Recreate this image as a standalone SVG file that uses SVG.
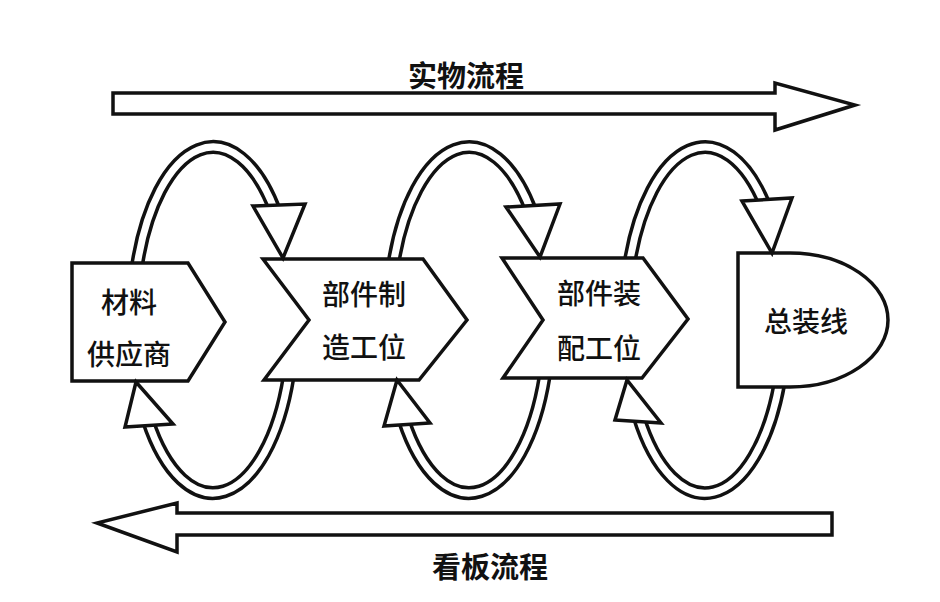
<svg xmlns="http://www.w3.org/2000/svg" width="940" height="602" viewBox="0 0 940 602">
<style>
.shape{fill:#fff;stroke:#111;stroke-width:3.5;stroke-linejoin:miter}
.bandO{fill:none;stroke:#111;stroke-width:14}
.bandI{fill:none;stroke:#fff;stroke-width:7}
.head{fill:#fff;stroke:#111;stroke-width:3.5;stroke-linejoin:miter}
.t{font-family:"Noto Sans CJK SC","Noto Sans CJK TC",sans-serif;font-size:28px;fill:#111;text-anchor:middle;dominant-baseline:central}
.title{font-weight:700;font-size:29px}
.lbl{font-weight:500}
</style>
<rect width="940" height="602" fill="#fff"/>
<g id="connectors">
  <g id="flow-arrows">
    <path class="shape" d="M113,93 H775 V83 L855,105 L775,130 V114 H113 Z"/>
    <path class="shape" d="M832,513 H177 V503 L97,523 L177,552 V535 H832 Z"/>
  </g>
  <g id="loop1">
    <path class="bandO" d="M136.7,268 A80 173 0 0 1 275.5,212"/>
    <path class="bandI" d="M136.7,268 A80 173 0 0 1 275.5,212"/>
    <path class="bandO" d="M288.7,376 A80 173 0 0 1 147.7,420"/>
    <path class="bandI" d="M288.7,376 A80 173 0 0 1 147.7,420"/>
  </g>
  <g id="loop2">
    <path class="bandO" d="M393.2,265 A80 173 0 0 1 531.5,212"/>
    <path class="bandI" d="M393.2,265 A80 173 0 0 1 531.5,212"/>
    <path class="bandO" d="M544.7,376 A80 173 0 0 1 403.7,420"/>
    <path class="bandI" d="M544.7,376 A80 173 0 0 1 403.7,420"/>
  </g>
  <g id="loop3">
    <path class="bandO" d="M629.2,265 A80 173 0 0 1 765.2,206"/>
    <path class="bandI" d="M629.2,265 A80 173 0 0 1 765.2,206"/>
    <path class="bandO" d="M779.7,382 A80 173 0 0 1 638.4,416"/>
    <path class="bandI" d="M779.7,382 A80 173 0 0 1 638.4,416"/>
  </g>
</g>
<g id="node-supplier">
  <path class="shape" d="M72,263 H188 L225,322 L188,381 H72 Z"/>
  <text class="t lbl" x="129" y="301">材料</text>
  <text class="t lbl" x="129" y="353">供应商</text>
</g>
<g id="node-parts-making">
  <path class="shape" d="M263,259 H423 L467,320 L419,380 H264 L309,320 Z"/>
  <text class="t lbl" x="364" y="293">部件制</text>
  <text class="t lbl" x="364" y="346">造工位</text>
</g>
<g id="node-parts-assembly">
  <path class="shape" d="M502,258 H643 L688,319 L642,378 H503 L543,320 Z"/>
  <text class="t lbl" x="599" y="292">部件装</text>
  <text class="t lbl" x="599" y="347">配工位</text>
</g>
<g id="node-final-line">
  <path class="shape" d="M738,253 H790 A98 67 0 0 1 790,387 H738 Z"/>
  <text class="t lbl" x="806" y="320">总装线</text>
</g>
<g id="arrowheads">
  <polygon class="head" points="253,206 305,204 283,258"/>
  <polygon class="head" points="125,427 173,424 136,382"/>
  <polygon class="head" points="506,207 560,204 540,257"/>
  <polygon class="head" points="384,426 430,423 397,380"/>
  <polygon class="head" points="742,201 792,198 772,253"/>
  <polygon class="head" points="615,420 661,423 627,380"/>
</g>
<text class="t title" x="466" y="74">实物流程</text>
<text class="t title" x="490" y="565">看板流程</text>
</svg>
